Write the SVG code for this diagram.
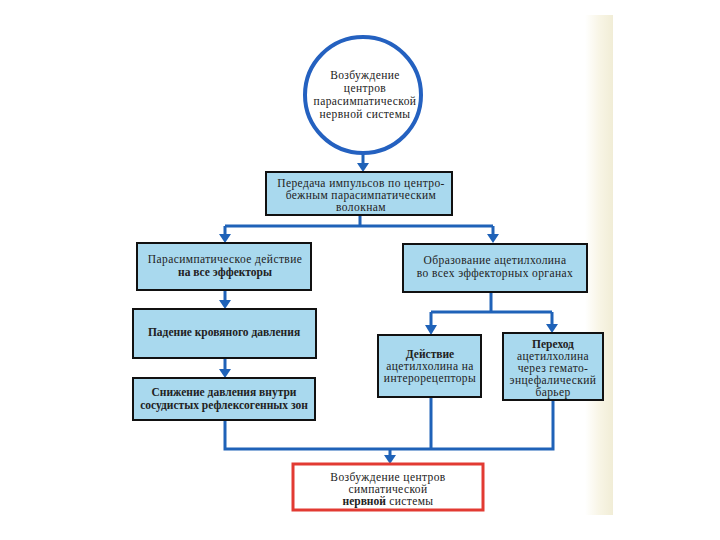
<svg xmlns="http://www.w3.org/2000/svg" width="720" height="540" viewBox="0 0 720 540">
<defs>
<linearGradient id="cream" x1="0" y1="0" x2="1" y2="0">
<stop offset="0" stop-color="#ffffff"/>
<stop offset="0.5" stop-color="#f8f5e6"/>
<stop offset="1" stop-color="#f1edd6"/>
</linearGradient>
<style>
.box{fill:#a9d9ee;stroke:#111;stroke-width:2}
.ln{fill:none;stroke:#1f62b8;stroke-width:3}
.ah{fill:#1f62b8}
.t{font-family:"Liberation Serif","DejaVu Serif",serif;font-size:11.5px;letter-spacing:0.4px;fill:#222;text-anchor:middle}
.b{font-weight:bold;letter-spacing:0}
</style>
</defs>
<rect width="720" height="540" fill="#fff"/>
<rect x="585" y="15" width="28" height="500" fill="url(#cream)"/>

<g id="connectors">
<path class="ln" d="M363,152 V165"/>
<path class="ah" d="M357,163 L369,163 L363,172 Z"/>
<path class="ln" d="M360,215 V226 M225,226 H493 M225,226 V236 M493,226 V236"/>
<path class="ah" d="M219,234 L231,234 L225,243 Z"/>
<path class="ah" d="M487,234 L499,234 L493,243 Z"/>
<path class="ln" d="M225,290 V302"/>
<path class="ah" d="M219,300 L231,300 L225,309 Z"/>
<path class="ln" d="M225,358 V370"/>
<path class="ah" d="M219,369 L231,369 L225,378 Z"/>
<path class="ln" d="M491,292 V312 M431,312 H552 M431,312 V326 M552,312 V325"/>
<path class="ah" d="M425,325 L437,325 L431,335 Z"/>
<path class="ah" d="M546,324 L558,324 L552,333 Z"/>
<path class="ln" d="M225,420 V449 H553 V400 M431,397 V449 M390,449 V456"/>
<path class="ah" d="M384,455 L396,455 L390,464 Z"/>
</g>

<g id="n1">
<circle cx="363" cy="95" r="58" fill="#fff" stroke="#2461c0" stroke-width="4"/>
<text class="t" x="365" y="79">Возбуждение</text>
<text class="t" x="365" y="92">центров</text>
<text class="t" x="365" y="105">парасимпатической</text>
<text class="t" x="365" y="118">нервной системы</text>
</g>

<g id="n2">
<rect class="box" x="266" y="172" width="186" height="43"/>
<text class="t" x="361" y="187">Передача импульсов по центро-</text>
<text class="t" x="361" y="199">бежным  парасимпатическим</text>
<text class="t" x="361" y="211">волокнам</text>
</g>

<g id="n3">
<rect class="box" x="137" y="243" width="174" height="47"/>
<text class="t" x="225" y="263">Парасимпатическое действие</text>
<text class="t b" x="225" y="276">на все эффекторы</text>
</g>

<g id="n4">
<rect class="box" x="403" y="244" width="184" height="48"/>
<text class="t" x="495" y="264">Образование ацетилхолина</text>
<text class="t" x="495" y="277">во всех  эффекторных органах</text>
</g>

<g id="n5">
<rect class="box" x="133" y="309" width="183" height="49"/>
<text class="t b" x="224" y="336">Падение кровяного давления</text>
</g>

<g id="n6">
<rect class="box" x="133" y="378" width="182" height="42"/>
<text class="t b" x="224" y="396">Снижение давления внутри</text>
<text class="t b" x="224" y="409">сосудистых рефлексогенных зон</text>
</g>

<g id="n7">
<rect class="box" x="378" y="335" width="103" height="62"/>
<text class="t b" x="430" y="358">Действие</text>
<text class="t" x="430" y="370">ацетилхолина на</text>
<text class="t" x="430" y="382">интерорецепторы</text>
</g>

<g id="n8">
<rect class="box" x="503" y="333" width="100" height="67"/>
<text class="t b" x="553" y="348">Переход</text>
<text class="t" x="553" y="360">ацетилхолина</text>
<text class="t" x="553" y="372">через  гемато-</text>
<text class="t" x="553" y="384">энцефалический</text>
<text class="t" x="553" y="396">барьер</text>
</g>

<g id="n9">
<rect x="293" y="464" width="190" height="46" fill="#fff" stroke="#e23a32" stroke-width="3"/>
<text class="t" x="388" y="481">Возбуждение  центров</text>
<text class="t" x="388" y="493">симпатической</text>
<text class="t" x="388" y="505"><tspan class="b">нервной</tspan> системы</text>
</g>
</svg>
